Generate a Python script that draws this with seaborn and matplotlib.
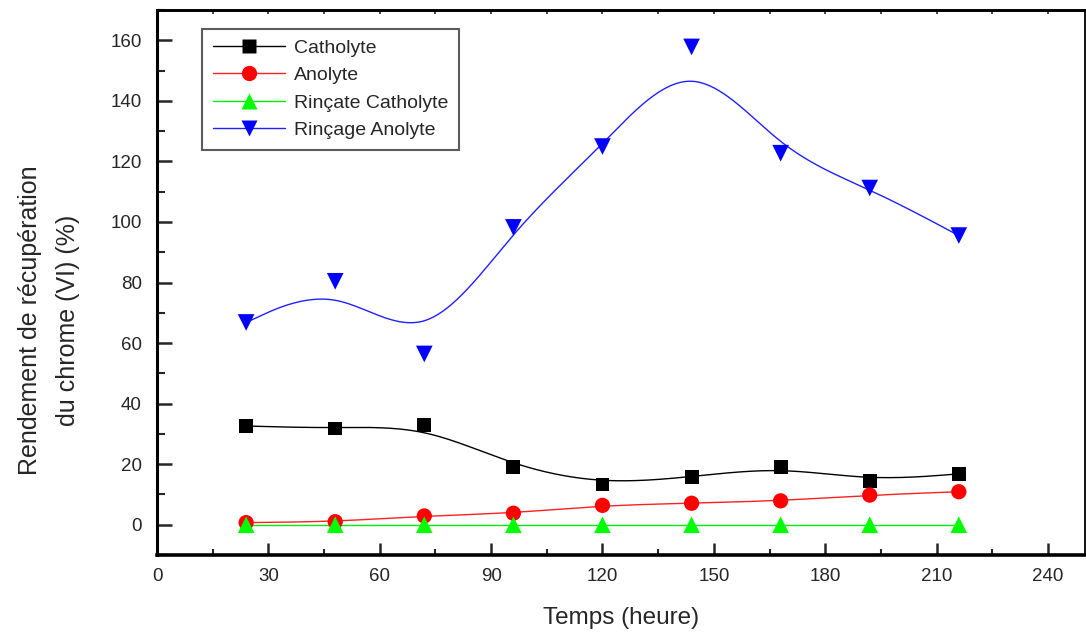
import numpy as np
import pandas as pd
import matplotlib
matplotlib.use("Agg")
import matplotlib.pyplot as plt
from matplotlib.lines import Line2D
import seaborn as sns

# ---- data ----
temps = [24, 48, 72, 96, 120, 144, 168, 192, 216]
catholyte = [32.6, 31.8, 32.8, 19.2, 13.3, 15.8, 19.2, 14.5, 16.8]
anolyte = [0.7, 1.0, 2.9, 3.8, 6.4, 7.1, 7.9, 9.8, 10.9]
rincate_catholyte = [0, 0, 0, 0, 0, 0, 0, 0, 0]
rincage_anolyte = [66.8, 80.4, 56.4, 98.2, 124.9, 157.8, 122.7, 111.2, 95.5]

series_names = ["Catholyte", "Anolyte", "Rinçate Catholyte", "Rinçage Anolyte"]
series_values = [catholyte, anolyte, rincate_catholyte, rincage_anolyte]
colors = ["#000000", "#FF0000", "#00FF00", "#0000FF"]
line_colors = ["#000000", "#FF2020", "#00EE00", "#2020FF"]
markers = ["s", "o", "^", "v"]
msizes = [10, 11, 12, 12]

xticks = [0, 30, 60, 90, 120, 150, 180, 210, 240]
yticks = [0, 20, 40, 60, 80, 100, 120, 140, 160]


def bspline(xs, ys, m=40):
    """Uniform cubic B-spline with the data points as control points (ends repeated)."""
    P = np.column_stack([xs, ys]).astype(float)
    Q = np.vstack([P[0], P[0], P, P[-1], P[-1]])
    t = np.linspace(0, 1, m)
    b0 = (1 - t) ** 3 / 6
    b1 = (3 * t ** 3 - 6 * t ** 2 + 4) / 6
    b2 = (-3 * t ** 3 + 3 * t ** 2 + 3 * t + 1) / 6
    b3 = t ** 3 / 6
    out = []
    for i in range(len(Q) - 3):
        seg = (np.outer(b0, Q[i]) + np.outer(b1, Q[i + 1]) +
               np.outer(b2, Q[i + 2]) + np.outer(b3, Q[i + 3]))
        out.append(seg if i == 0 else seg[1:])
    C = np.vstack(out)
    return C[:, 0], C[:, 1]


sns.set_style("ticks")
plt.rcParams["font.family"] = ["Liberation Sans", "DejaVu Sans"]

fig = plt.figure(figsize=(10.86, 6.37), dpi=100)
ax = fig.add_axes([0.1446, 0.1287, 0.8545, 0.8556])

handles = []
for name, vals, c, lc, mk, ms in zip(series_names, series_values, colors, line_colors, markers, msizes):
    cx, cy = bspline(temps, vals)
    curve = pd.DataFrame({"x": cx, "y": cy})
    sns.lineplot(data=curve, x="x", y="y", ax=ax, color=lc, linewidth=1.0, sort=False,
                 estimator=None, legend=False, zorder=2)
    pts = pd.DataFrame({"x": temps, "y": vals})
    sns.scatterplot(data=pts, x="x", y="y", ax=ax, color=c, marker=mk, s=ms ** 2,
                    edgecolor="none", linewidth=0, legend=False, zorder=3)
    handles.append(Line2D([], [], color=lc, linewidth=1.0, marker=mk, markersize=ms,
                          markerfacecolor=c, markeredgecolor="none", label=name))

ax.set_xlim(0, 250)
ax.set_ylim(-10, 170)
ax.set_xticks(xticks)
ax.set_yticks(yticks)
ax.set_xticks(np.arange(15, 250, 30), minor=True)
ax.set_yticks(np.arange(-10, 171, 20), minor=True)
ax.tick_params(axis="x", which="major", direction="in", length=9, width=1.8, labelsize=13.5, pad=9)
ax.tick_params(axis="x", which="minor", direction="in", length=4.5, width=1.5)
ax.tick_params(axis="y", which="major", direction="in", length=11, width=1.8, labelsize=13.5, pad=11)
ax.tick_params(axis="y", which="minor", direction="in", length=5.5, width=1.5)

for side, lw in [("left", 2.2), ("bottom", 2.6), ("top", 2.0), ("right", 1.3)]:
    ax.spines[side].set_visible(True)
    ax.spines[side].set_linewidth(lw)
    ax.spines[side].set_color("black")

sec = ax.secondary_xaxis("top")
sec.set_xticks(xticks)
sec.set_xticks(np.arange(15, 250, 30), minor=True)
sec.tick_params(which="both", direction="in", length=3, width=1.2, labeltop=False)
sec.spines["top"].set_linewidth(2.0)

ax.set_xlabel("Temps (heure)", fontsize=17.5, labelpad=16)
ax.set_ylabel("Rendement de récupération\ndu chrome (VI) (%)", fontsize=18, linespacing=1.75)
ax.yaxis.set_label_coords(-0.083, 0.43)

leg = ax.legend(handles=handles, loc="upper left", bbox_to_anchor=(0.0485, 0.966),
                borderaxespad=0, fontsize=14, handlelength=3.7, handletextpad=0.5,
                labelspacing=0.5, borderpad=0.55, fancybox=False, frameon=True)
leg.get_frame().set_edgecolor("#333333")
leg.get_frame().set_linewidth(1.5)

fig.savefig("out.png", dpi=100, facecolor="white")
